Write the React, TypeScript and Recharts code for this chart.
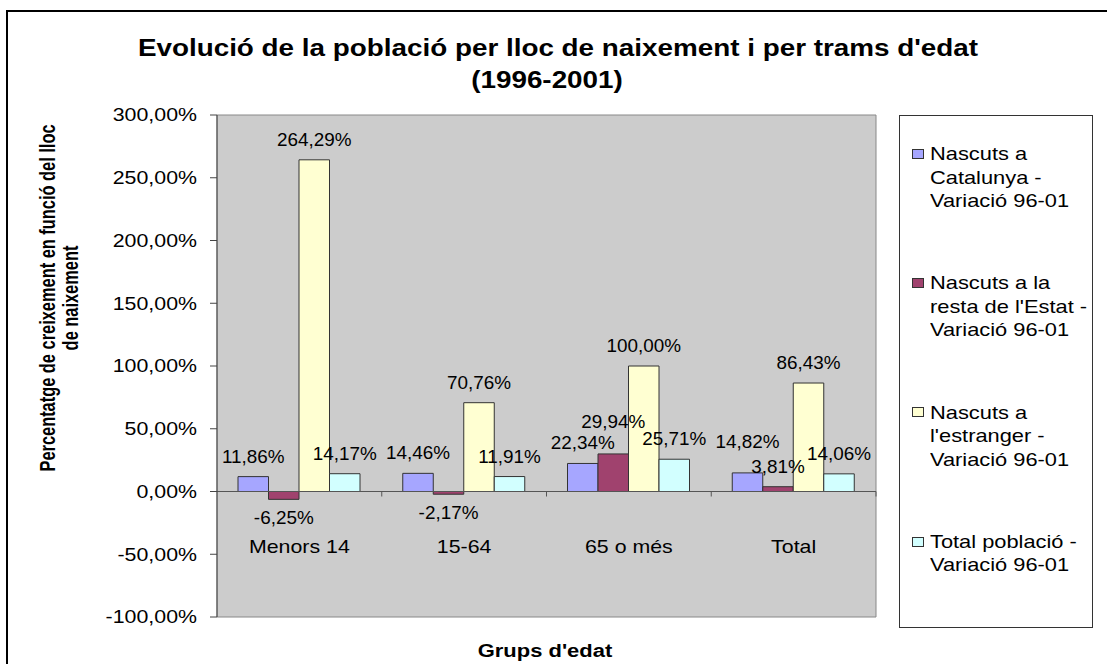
import { BarChart, Bar, XAxis, YAxis, ReferenceLine, ReferenceArea, LabelList } from 'recharts'

const categories = ['Menors 14', '15-64', '65 o més', 'Total']
const nascutsCatalunya = [11.86, 14.46, 22.34, 14.82]
const nascutsRestaEstat = [-6.25, -2.17, 29.94, 3.81]
const nascutsEstranger = [264.29, 70.76, 100.0, 86.43]
const totalPoblacio = [14.17, 11.91, 25.71, 14.06]
const yTicks = [-100, -50, 0, 50, 100, 150, 200, 250, 300]

const series = [
  { key: 'catalunya', values: nascutsCatalunya, color: '#A6A6FF', legend: ['Nascuts a', 'Catalunya -', 'Variació 96-01'] },
  { key: 'restaEstat', values: nascutsRestaEstat, color: '#A0426E', legend: ['Nascuts a la', "resta de l'Estat -", 'Variació 96-01'] },
  { key: 'estranger', values: nascutsEstranger, color: '#FFFFD2', legend: ['Nascuts a', "l'estranger -", 'Variació 96-01'] },
  { key: 'total', values: totalPoblacio, color: '#D2FFFF', legend: ['Total població -', 'Variació 96-01'] },
]

const data = categories.map((name, i) => {
  const row: Record<string, string | number> = { name }
  series.forEach((s) => { row[s.key] = s.values[i] })
  return row
})

const W = 1107
const H = 664
const PLOT = { left: 217, top: 115, right: 876, bottom: 617 }
const Y_MIN = -100
const Y_MAX = 300
const zeroY = PLOT.top + (Y_MAX / (Y_MAX - Y_MIN)) * (PLOT.bottom - PLOT.top)
const bandW = (PLOT.right - PLOT.left) / categories.length
const FONT = '"Liberation Sans", Arial, sans-serif'

// labels that were nudged up in the original to avoid overlapping
const LABEL_LIFT: Record<string, number> = { 'restaEstat|2': 12, 'catalunya|3': 11 }

const fmt = (v: number) => v.toFixed(2).replace('.', ',') + '%'

const YTick = ({ x, y, payload }: any) => (
  <text
    transform={`translate(${x} ${y}) scale(1.22 1)`}
    textAnchor="end"
    dominantBaseline="central"
    fontSize={17.5}
    fontFamily={FONT}
    fill="#000"
  >
    {fmt(payload.value)}
  </text>
)

const XTick = ({ x, payload }: any) => (
  <g>
    <line x1={x + bandW / 2} x2={x + bandW / 2} y1={zeroY} y2={zeroY + 5} stroke="#555" />
    <text
      transform={`translate(${x} ${zeroY + 61}) scale(1.22 1)`}
      textAnchor="middle"
      fontSize={17.5}
      fontFamily={FONT}
      fill="#000"
    >
      {payload.value}
    </text>
  </g>
)

const makeLabel = (key: string) => (props: any) => {
  const { x, y, width, height, value, index } = props
  const top = Math.min(y, y + height)
  const bottom = Math.max(y, y + height)
  const lift = LABEL_LIFT[`${key}|${index}`] || 0
  const ty = value >= 0 ? top - 14 - lift : bottom + 25
  return (
    <text
      transform={`translate(${x + width / 2} ${ty}) scale(1.05 1)`}
      textAnchor="middle"
      fontSize={18}
      fontFamily={FONT}
      fill="#000"
    >
      {fmt(value)}
    </text>
  )
}

export default function App() {
  return (
    <div style={{ position: 'absolute', left: 0, top: 0, width: W, height: H, overflow: 'hidden', background: '#fff', fontFamily: FONT }}>
      {/* outer chart frame, cut off at right/bottom */}
      <div style={{ position: 'absolute', left: 6, top: 10, width: W + 20, height: H + 20, borderLeft: '2px solid #000', borderTop: '2px solid #000' }} />

      <div style={{ position: 'absolute', left: 558 - 500, width: 1000, top: 32, lineHeight: '32px', fontSize: 23, fontWeight: 'bold', textAlign: 'center', transform: 'scaleX(1.21)', whiteSpace: 'nowrap' }}>
        Evolució de la població per lloc de naixement i per trams d'edat
      </div>
      <div style={{ position: 'absolute', left: 547 - 200, width: 400, top: 64, lineHeight: '32px', fontSize: 23, fontWeight: 'bold', textAlign: 'center', transform: 'scaleX(1.21)', whiteSpace: 'nowrap' }}>
        (1996-2001)
      </div>

      {['Percentatge de creixement en funció del lloc', 'de naixement'].map((t, i) => (
        <div
          key={t}
          style={{ position: 'absolute', left: 47 + i * 23, top: 298, fontSize: 16.4, fontWeight: 'bold', whiteSpace: 'nowrap', lineHeight: '20px', transform: 'translate(-50%, -50%) scale(1.35, 1) rotate(-90deg)' }}
        >
          {t}
        </div>
      ))}

      <div style={{ position: 'absolute', left: 545, top: 651, fontSize: 18, fontWeight: 'bold', whiteSpace: 'nowrap', lineHeight: '22px', transform: 'translate(-50%, -50%) scale(1.22, 1)' }}>
        Grups d'edat
      </div>

      <div style={{ position: 'absolute', left: 0, top: 0 }}>
        <BarChart
          width={W}
          height={H}
          data={data}
          margin={{ top: PLOT.top, right: W - PLOT.right, bottom: H - PLOT.bottom - 30, left: PLOT.left - 80 }}
          barGap={0}
        >
          <ReferenceArea y1={Y_MIN} y2={Y_MAX} fill="#CCCCCC" fillOpacity={1} stroke="#888" />
          <XAxis dataKey="name" height={30} axisLine={false} tickLine={false} tick={XTick} interval={0} />
          <YAxis
            width={80}
            domain={[Y_MIN, Y_MAX]}
            ticks={yTicks}
            allowDataOverflow
            axisLine={{ stroke: '#444' }}
            tickLine={{ stroke: '#444' }}
            tickSize={7}
            tickMargin={13}
            tick={YTick}
          />
          <ReferenceLine y={0} stroke="#555" />
          {series.map((s) => (
            <Bar key={s.key} dataKey={s.key} fill={s.color} stroke="#333" strokeWidth={1} barSize={30.5} isAnimationActive={false}>
              <LabelList dataKey={s.key} content={makeLabel(s.key)} />
            </Bar>
          ))}
        </BarChart>
      </div>

      <div style={{ position: 'absolute', left: 899, top: 115, width: 194, height: 513, border: '1.5px solid #333', boxSizing: 'border-box', background: '#fff' }}>
        {series.map((s, i) => (
          <div key={s.key}>
            <div style={{ position: 'absolute', left: 12, top: 26 + i * 129.3 + 11.75 - 5, width: 10, height: 8, border: '1px solid #333', background: s.color }} />
            <div style={{ position: 'absolute', left: 30, top: 26 + i * 129.3, fontSize: 18.5, lineHeight: '23.5px', whiteSpace: 'nowrap', transform: 'scaleX(1.18)', transformOrigin: 'left center' }}>
              {s.legend.map((l) => (
                <div key={l}>{l}</div>
              ))}
            </div>
          </div>
        ))}
      </div>
    </div>
  )
}
